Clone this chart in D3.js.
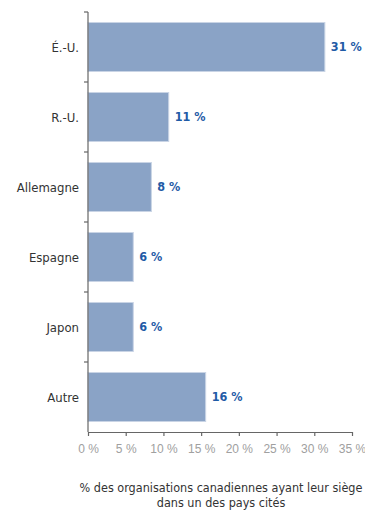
<!DOCTYPE html>
<html>
<head>
<meta charset="utf-8">
<script src="https://cdn.jsdelivr.net/npm/d3@7"></script>
<style>
  html, body { margin: 0; padding: 0; background: #fff; }
  svg { display: block; font-family: "DejaVu Sans Condensed", "Liberation Sans", sans-serif; }
</style>
</head>
<body>
<svg id="chart" width="365" height="510"></svg>
<script>
// Country of head office for Canadian organisations (share, %)
const categories = ["É.-U.", "R.-U.", "Allemagne", "Espagne", "Japon", "Autre"];
const values = [31.4, 10.7, 8.4, 6.0, 6.0, 15.6];
const xTicks = [0, 5, 10, 15, 20, 25, 30, 35];
const titleLines = ["% des organisations canadiennes ayant leur siège", "dans un des pays cités"];

const svg = d3.select("#chart");
const margin = { left: 88, right: 13, top: 12, bottom: 78 };
const W = 365, H = 510;

const x = d3.scaleLinear().domain([0, 35]).range([margin.left, W - margin.right]);
const y = d3.scaleBand().domain(categories).range([margin.top, H - margin.bottom])
  .paddingInner(0.3).paddingOuter(0.15);

// bars
svg.append("g").selectAll("rect").data(categories).join("rect")
  .attr("x", x(0))
  .attr("y", d => y(d))
  .attr("width", (d, i) => x(values[i]) - x(0))
  .attr("height", y.bandwidth())
  .attr("fill", "#8aa3c6")
  .attr("stroke", "#c9d4e5")
  .attr("stroke-width", 1);

// value labels
svg.append("g").selectAll("text").data(categories).join("text")
  .attr("x", (d, i) => x(values[i]) + 6)
  .attr("y", d => y(d) + y.bandwidth() / 2)
  .attr("dy", "0.35em")
  .attr("fill", "#1f5ba6")
  .attr("font-size", 12.5)
  .attr("font-weight", "bold")
  .text((d, i) => Math.round(values[i]) + " %");

// y axis: line with ticks at the band boundaries
const yAxis = svg.append("g");
const bounds = d3.range(categories.length + 1).map(i => margin.top + i * y.step());
yAxis.append("line")
  .attr("x1", x(0)).attr("x2", x(0))
  .attr("y1", margin.top).attr("y2", H - margin.bottom)
  .attr("stroke", "#666").attr("stroke-width", 1.2);
yAxis.selectAll("line.tick").data(bounds.slice(0, -1)).join("line")
  .attr("class", "tick")
  .attr("x1", x(0) - 4).attr("x2", x(0))
  .attr("y1", d => d).attr("y2", d => d)
  .attr("stroke", "#666").attr("stroke-width", 1.2);
yAxis.selectAll("text").data(categories).join("text")
  .attr("x", x(0) - 9)
  .attr("y", d => y(d) + y.bandwidth() / 2)
  .attr("dy", "0.35em")
  .attr("text-anchor", "end")
  .attr("fill", "#333")
  .attr("font-size", 13)
  .text(d => d);

// x axis
const xAxis = svg.append("g")
  .attr("transform", `translate(0,${H - margin.bottom})`)
  .call(d3.axisBottom(x).tickValues(xTicks).tickSize(4).tickSizeOuter(0).tickFormat(d => d + " %"));
xAxis.select(".domain").attr("stroke", "#666").attr("stroke-width", 1.2);
xAxis.selectAll(".tick line").attr("stroke", "#666").attr("stroke-width", 1.2);
xAxis.selectAll(".tick text")
  .attr("fill", "#a0a0a0")
  .attr("font-size", 12)
  .attr("y", 12)
  .attr("font-family", "inherit");

// axis title
svg.append("g").selectAll("text").data(titleLines).join("text")
  .attr("x", 221)
  .attr("y", (d, i) => 492 + i * 15)
  .attr("text-anchor", "middle")
  .attr("fill", "#333")
  .attr("font-size", 12.5)
  .text(d => d);
</script>
</body>
</html>
